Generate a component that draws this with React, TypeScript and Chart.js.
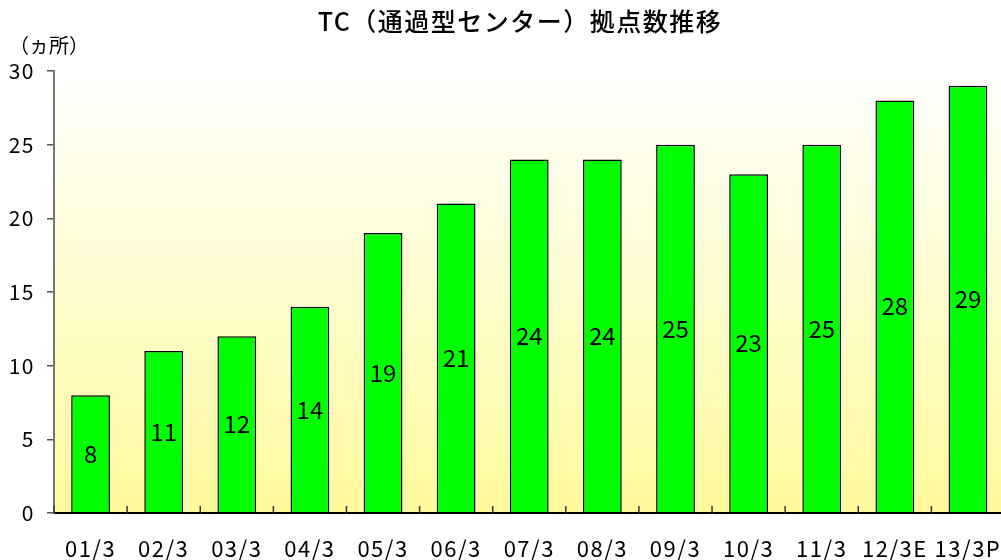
import React, { useEffect, useRef } from "react";
import { Chart, registerables } from "chart.js";

Chart.register(...registerables);

const categories = ["01/3", "02/3", "03/3", "04/3", "05/3", "06/3", "07/3", "08/3", "09/3", "10/3", "11/3", "12/3E", "13/3P"];
const centerCounts = [8, 11, 12, 14, 19, 21, 24, 24, 25, 23, 25, 28, 29];
const titleText = "TC（通過型センター）拠点数推移";
const unitText = "（ヵ所）";
const yMin = 0;
const yMax = 30;
const yStep = 5;

const FONT = "'Noto Sans CJK JP', 'Noto Sans', sans-serif";

const decorPlugin = {
  id: "decor",
  beforeDraw(chart: any) {
    const { ctx, chartArea } = chart;
    const g = ctx.createLinearGradient(0, chartArea.top, 0, chartArea.bottom);
    g.addColorStop(0, "#FFFFFF");
    g.addColorStop(1, "#FFFA9C");
    ctx.save();
    ctx.fillStyle = g;
    ctx.fillRect(chartArea.left, chartArea.top, chartArea.right - chartArea.left, chartArea.bottom - chartArea.top);
    ctx.restore();
    ctx.letterSpacing = "1.5px";
  },
  afterDatasetsDraw(chart: any) {
    const { ctx, chartArea } = chart;
    const xs = chart.scales.x;
    const meta = chart.getDatasetMeta(0);
    ctx.save();
    ctx.letterSpacing = "0px";
    // inward ticks on x axis at category boundaries
    ctx.strokeStyle = "#333333";
    ctx.lineWidth = 1.5;
    const step = xs.getPixelForValue(1) - xs.getPixelForValue(0);
    for (let i = 0; i <= categories.length; i++) {
      const x = i === 0 ? chartArea.left : xs.getPixelForValue(i - 1) + step / 2;
      ctx.beginPath();
      ctx.moveTo(x, chartArea.bottom);
      ctx.lineTo(x, chartArea.bottom - 7);
      ctx.stroke();
    }
    // value labels
    ctx.fillStyle = "#000000";
    ctx.font = `24px ${FONT}`;
    ctx.textAlign = "center";
    ctx.textBaseline = "middle";
    meta.data.forEach((bar: any, i: number) => {
      const y = (bar.y + bar.base) / 2;
      ctx.fillText(String(centerCounts[i]), bar.x, y);
    });
    // title
    ctx.font = `500 25px ${FONT}`;
    ctx.letterSpacing = "1.5px";
    ctx.fillText(titleText, 520, 21);
    ctx.letterSpacing = "0px";
    ctx.font = `20px ${FONT}`;
    ctx.textAlign = "left";
    ctx.fillText(unitText, 9, 45);
    ctx.restore();
  },
};

export default function App() {
  const ref = useRef<HTMLCanvasElement>(null);
  useEffect(() => {
    const chart = new Chart(ref.current as HTMLCanvasElement, {
      type: "bar",
      data: {
        labels: categories,
        datasets: [
          {
            data: centerCounts,
            backgroundColor: "#00FF00",
            borderColor: "#000000",
            borderWidth: 1.5,
            barPercentage: 0.53,
            categoryPercentage: 1,
          },
        ],
      },
      options: {
        responsive: false,
        animation: false,
        layout: { padding: { left: 0, right: 12, top: 71, bottom: 0 } },
        plugins: { legend: { display: false }, tooltip: { enabled: false }, title: { display: false } },
        scales: {
          x: {
            offset: true,
            grid: { display: false, drawTicks: false },
            border: { display: true, color: "#000000", width: 2 },
            ticks: { color: "#000000", font: { family: FONT, size: 22 }, padding: 22, maxRotation: 0, autoSkip: false },
            afterFit: (s: any) => {
              s.height = 47;
            },
          },
          y: {
            min: yMin,
            max: yMax,
            grid: { drawOnChartArea: false, drawTicks: true, tickLength: 7, color: "#555555", lineWidth: 1.5 },
            border: { display: true, color: "#777777", width: 2 },
            ticks: { stepSize: yStep, color: "#000000", font: { family: FONT, size: 21 }, padding: 12 },
            afterFit: (s: any) => {
              s.width = 54;
            },
          },
        },
      },
      plugins: [decorPlugin],
    });
    return () => chart.destroy();
  }, []);
  return (
    <div style={{ position: "fixed", left: 0, top: 0, width: 1001, height: 560, overflow: "hidden", background: "#FFFFFF" }}>
      <canvas ref={ref} width={1020} height={560} style={{ display: "block" }} />
    </div>
  );
}
